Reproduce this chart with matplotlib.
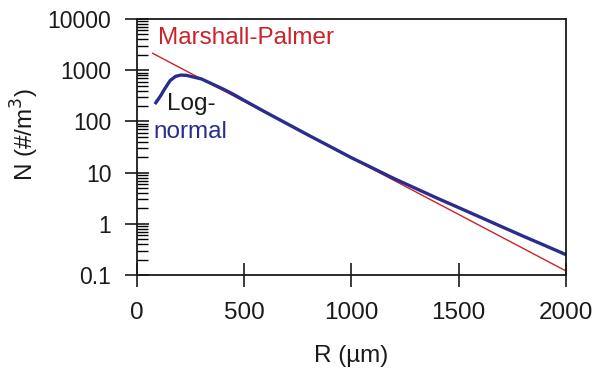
import matplotlib.pyplot as plt
from matplotlib.ticker import LogLocator, FixedLocator, NullFormatter

plt.rcParams['font.family'] = ['Liberation Sans', 'DejaVu Sans']

# Marshall-Palmer (straight line on log axis)
mp_r = [73, 2000]
mp_n = [2140, 0.12]

# log-normal curve
ln_r = [88, 110, 130, 155, 180, 205, 230, 260, 300, 350, 400, 450, 500, 600, 700, 800,
        900, 1000, 1100, 1200, 1300, 1400, 1500, 1600, 1700, 1800, 1900, 2000]
ln_n = [232, 316, 437, 631, 759, 804, 794, 741, 676, 540, 432, 338, 257, 151, 90, 53.7,
        32.4, 19.5, 12.2, 7.6, 4.9, 3.16, 2.07, 1.35, 0.88, 0.575, 0.38, 0.25]

x_ticks = [0, 500, 1000, 1500, 2000]
y_ticks = [0.1, 1, 10, 100, 1000, 10000]
y_labels = ['0.1', '1', '10', '100', '1000', '10000']

fig = plt.figure(figsize=(6.05, 3.69), dpi=100)
ax = fig.add_axes([0.2264, 0.2547, 0.7091, 0.6938])

ax.plot(mp_r, mp_n, color='#cc2229', lw=1.0)
ax.plot(ln_r, ln_n, color='#2b2d8e', lw=2.4, solid_joinstyle='round')

ax.set_yscale('log')
ax.set_xlim(0, 2000)
ax.set_ylim(0.1, 10000)

ax.set_xticks(x_ticks)
ax.set_xticklabels([str(t) for t in x_ticks])
ax.yaxis.set_major_locator(FixedLocator(y_ticks))
ax.set_yticklabels(y_labels)
ax.yaxis.set_minor_locator(LogLocator(base=10, subs=range(2, 10), numticks=20))
ax.yaxis.set_minor_formatter(NullFormatter())

ax.tick_params(axis='both', which='major', direction='inout', length=17, width=1.2,
               colors='#1a1a1a')
ax.tick_params(axis='y', which='major', pad=10, labelsize=16.5)
ax.tick_params(axis='x', which='major', pad=11, labelsize=17.5)
ax.tick_params(axis='y', which='minor', direction='in', length=8, width=1.0)
for s in ax.spines.values():
    s.set_linewidth(1.3)
    s.set_color('#1a1a1a')

ax.set_xlabel('R (µm)', fontsize=17.5, labelpad=15, color='#1a1a1a')
ax.set_ylabel('N (#/m$^3$)', fontsize=17.5, color='#1a1a1a')
ax.yaxis.set_label_coords(-0.261, 0.547)
ax.yaxis.label.set_verticalalignment('center')

ax.text(98, 3180, 'Marshall-Palmer', color='#cc2229', fontsize=17.5, va='baseline')
ax.text(140, 167, 'Log-', color='#1a1a1a', fontsize=17.5, va='baseline')
ax.text(79, 47.4, 'normal', color='#2b2d8e', fontsize=17.5, va='baseline')

fig.savefig('out.png', dpi=100)
